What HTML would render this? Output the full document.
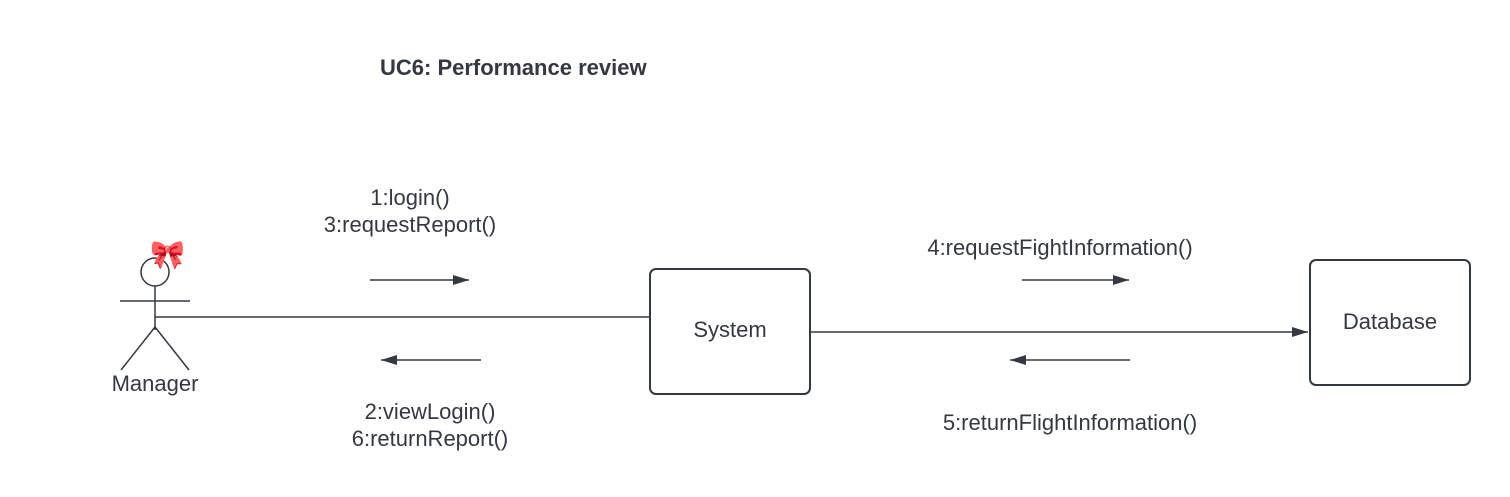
<!DOCTYPE html>
<html><head><meta charset="utf-8"><style>
html,body{margin:0;padding:0;background:#fff;}
svg{display:block;}
text{font-family:"Liberation Sans",sans-serif;fill:#333842;}
</style></head><body>
<svg width="1510" height="497" viewBox="0 0 1510 497" xmlns="http://www.w3.org/2000/svg">
<defs>
<marker id="a" markerWidth="16" markerHeight="10" refX="16" refY="5" orient="auto" markerUnits="userSpaceOnUse">
<path d="M0,0 L16,5 L0,10 z" fill="#333842"/></marker>
</defs>
<text x="380" y="75" font-size="22" font-weight="bold">UC6: Performance review</text>
<!-- actor -->
<circle cx="155" cy="272" r="14" fill="none" stroke="#333842" stroke-width="1.5"/>
<text x="150" y="264" font-size="28" fill="#e85aa6">🎀</text>
<line x1="155" y1="286" x2="155" y2="330" stroke="#333842" stroke-width="1.5"/>
<line x1="120" y1="301" x2="190" y2="301" stroke="#333842" stroke-width="1.5"/>
<line x1="155" y1="327" x2="121" y2="370" stroke="#333842" stroke-width="1.5"/>
<line x1="155" y1="327" x2="189" y2="370" stroke="#333842" stroke-width="1.5"/>
<text x="155" y="391" font-size="22" text-anchor="middle">Manager</text>
<line x1="155" y1="317" x2="650" y2="317" stroke="#333842" stroke-width="1.5"/>
<!-- system -->
<rect x="650" y="269" width="160" height="125" rx="6" fill="#fff" stroke="#333842" stroke-width="2"/>
<text x="730" y="337" font-size="22" text-anchor="middle">System</text>
<line x1="810" y1="332" x2="1308" y2="332" stroke="#333842" stroke-width="1.5" marker-end="url(#a)"/>
<!-- database -->
<rect x="1310" y="260" width="160" height="125" rx="6" fill="#fff" stroke="#333842" stroke-width="2"/>
<text x="1390" y="329" font-size="22" text-anchor="middle">Database</text>
<!-- message labels -->
<text x="410" y="205" font-size="22" text-anchor="middle">1:login()</text>
<text x="410" y="232" font-size="22" text-anchor="middle">3:requestReport()</text>
<line x1="370" y1="280" x2="469" y2="280" stroke="#333842" stroke-width="1.5" marker-end="url(#a)"/>
<line x1="481" y1="360" x2="381" y2="360" stroke="#333842" stroke-width="1.5" marker-end="url(#a)"/>
<text x="430" y="419" font-size="22" text-anchor="middle">2:viewLogin()</text>
<text x="430" y="446" font-size="22" text-anchor="middle">6:returnReport()</text>
<text x="1060" y="255" font-size="22" text-anchor="middle">4:requestFightInformation()</text>
<line x1="1022" y1="280" x2="1129" y2="280" stroke="#333842" stroke-width="1.5" marker-end="url(#a)"/>
<line x1="1130" y1="360" x2="1010" y2="360" stroke="#333842" stroke-width="1.5" marker-end="url(#a)"/>
<text x="1070" y="430" font-size="22" text-anchor="middle">5:returnFlightInformation()</text>
</svg>
</body></html>
